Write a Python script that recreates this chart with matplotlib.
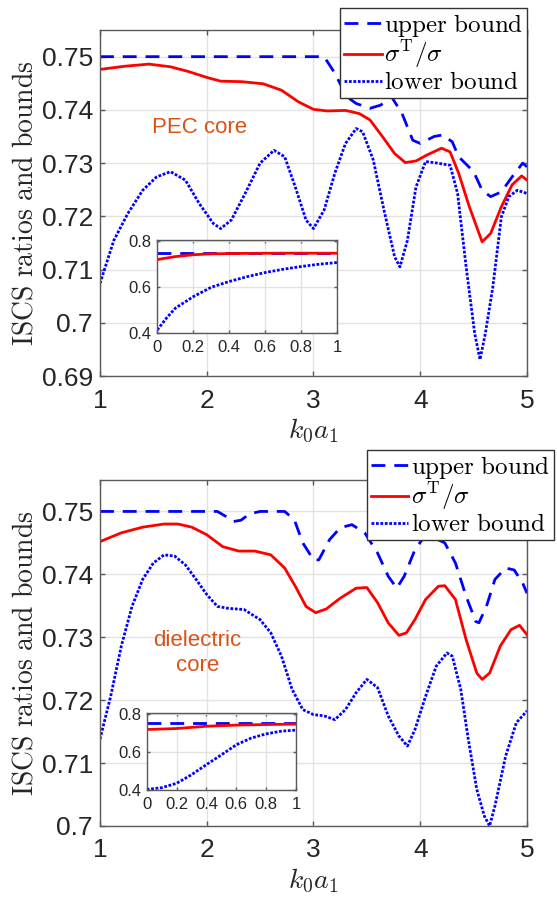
import matplotlib
matplotlib.use('Agg')
from matplotlib import pyplot as plt

plt.rcParams['mathtext.fontset'] = 'cm'
plt.rcParams['font.family'] = ['Liberation Sans', 'DejaVu Sans']

# PEC core (top panel)
pec_x_up = [1.0, 3.1, 3.2, 3.31, 3.4, 3.53, 3.63, 3.73, 3.83, 3.93, 4.0, 4.13, 4.21, 4.3, 4.36,
            4.5, 4.58, 4.66, 4.76, 4.86, 4.96, 5.0]
pec_up = [0.75, 0.75, 0.7469, 0.7425, 0.7412, 0.7403, 0.7409, 0.7425, 0.7393, 0.7343, 0.7337,
          0.7350, 0.7353, 0.7340, 0.7312, 0.7284, 0.7249, 0.7237, 0.7246, 0.7274, 0.7300, 0.7293]
pec_x_ratio = [1.0, 1.23, 1.46, 1.66, 1.83, 2.0, 2.13, 2.33, 2.53, 2.7, 2.86, 3.0, 3.13, 3.3,
               3.43, 3.53, 3.66, 3.76, 3.86, 3.96, 4.06, 4.2, 4.28, 4.36, 4.46, 4.58, 4.66,
               4.76, 4.86, 4.95, 5.0]
pec_ratio = [0.7476, 0.7482, 0.7486, 0.7481, 0.7472, 0.7461, 0.7454, 0.7453, 0.7449, 0.7437,
             0.7415, 0.7401, 0.7398, 0.7399, 0.7393, 0.7381, 0.7346, 0.7318, 0.7301, 0.7304,
             0.7315, 0.7328, 0.7321, 0.7281, 0.7218, 0.7152, 0.7168, 0.7218, 0.7259, 0.7276,
             0.7268]
pec_x_low = [1.0, 1.13, 1.26, 1.4, 1.53, 1.66, 1.8, 1.93, 2.06, 2.13, 2.23, 2.36, 2.5, 2.63,
             2.73, 2.83, 2.93, 3.0, 3.1, 3.2, 3.3, 3.4, 3.46, 3.56, 3.66, 3.76, 3.81, 3.88,
             3.96, 4.05, 4.16, 4.28, 4.35, 4.43, 4.51, 4.56, 4.61, 4.68, 4.76, 4.83, 4.91, 5.0]
pec_low = [0.7074, 0.7155, 0.7205, 0.7249, 0.7274, 0.7284, 0.7268, 0.7224, 0.7187, 0.7177,
           0.7193, 0.7243, 0.7300, 0.7324, 0.7312, 0.7255, 0.7193, 0.7177, 0.7212, 0.7281,
           0.7337, 0.7365, 0.7359, 0.7306, 0.7212, 0.7124, 0.7105, 0.7155, 0.7255, 0.7303,
           0.7300, 0.7296, 0.7243, 0.7105, 0.6980, 0.6931, 0.6980, 0.7067, 0.7199, 0.7237,
           0.7249, 0.7243]

# PEC core inset (k0a1 from 0 to 1)
pec_in_x = [0.0, 1.0]
pec_in_up = [0.75, 0.75]
pec_in_x_ratio = [0.0, 0.1, 0.2, 0.3, 0.5, 0.7, 1.0]
pec_in_ratio = [0.72, 0.733, 0.741, 0.745, 0.747, 0.7478, 0.7476]
pec_in_x_low = [0.0, 0.05, 0.1, 0.2, 0.3, 0.4, 0.5, 0.6, 0.7, 0.8, 0.9, 1.0]
pec_in_low = [0.4145, 0.465, 0.509, 0.559, 0.6, 0.625, 0.646, 0.664, 0.678, 0.69, 0.7, 0.7074]

# dielectric core (bottom panel)
die_x_up = [1.0, 2.1, 2.18, 2.25, 2.32, 2.4, 2.5, 2.73, 2.82, 2.9, 3.0, 3.05, 3.15, 3.25, 3.36,
            3.48, 3.6, 3.7, 3.78, 3.85, 3.95, 4.03, 4.13, 4.23, 4.33, 4.43, 4.52, 4.55, 4.62,
            4.7, 4.8, 4.88, 4.96, 5.0]
die_up = [0.75, 0.75, 0.7492, 0.7484, 0.7486, 0.7496, 0.75, 0.75, 0.7487, 0.7450, 0.7423,
          0.7423, 0.7455, 0.7474, 0.7479, 0.7466, 0.7434, 0.7397, 0.7378, 0.7397, 0.7439,
          0.7458, 0.7458, 0.7450, 0.7418, 0.7365, 0.7325, 0.7323, 0.7349, 0.7392, 0.7410,
          0.7407, 0.7386, 0.7370]
die_x_ratio = [1.0, 1.2, 1.4, 1.6, 1.73, 1.86, 2.0, 2.15, 2.3, 2.45, 2.6, 2.73, 2.83, 2.93,
               3.02, 3.12, 3.25, 3.4, 3.5, 3.6, 3.7, 3.8, 3.87, 3.95, 4.05, 4.17, 4.23, 4.33,
               4.43, 4.53, 4.58, 4.65, 4.75, 4.85, 4.93, 5.0]
die_ratio = [0.7452, 0.7466, 0.7475, 0.7480, 0.7480, 0.7475, 0.7463, 0.7444, 0.7437, 0.7437,
             0.7431, 0.7410, 0.7381, 0.7349, 0.7339, 0.7345, 0.7362, 0.7378, 0.7379, 0.7355,
             0.7323, 0.7303, 0.7307, 0.7328, 0.7360, 0.7381, 0.7382, 0.7360, 0.7296, 0.7243,
             0.7233, 0.7243, 0.7286, 0.7312, 0.7319, 0.7304]
die_x_low = [1.0, 1.1, 1.2, 1.3, 1.4, 1.5, 1.6, 1.7, 1.8, 1.9, 2.0, 2.1, 2.2, 2.35, 2.5, 2.6,
             2.7, 2.8, 2.9, 3.0, 3.1, 3.2, 3.3, 3.4, 3.5, 3.6, 3.7, 3.8, 3.88, 3.95, 4.05, 4.15,
             4.25, 4.3, 4.38, 4.45, 4.53, 4.6, 4.65, 4.7, 4.8, 4.9, 5.0]
die_low = [0.7138, 0.7206, 0.7286, 0.7349, 0.7392, 0.7418, 0.7431, 0.7429, 0.7415, 0.7392,
           0.7368, 0.7349, 0.7346, 0.7344, 0.7328, 0.7307, 0.7270, 0.7217, 0.7185, 0.7177,
           0.7175, 0.7169, 0.7185, 0.7212, 0.7233, 0.7220, 0.7175, 0.7143, 0.7127, 0.7153,
           0.7206, 0.7254, 0.7275, 0.7270, 0.7217, 0.7138, 0.7058, 0.7016, 0.7000, 0.7032,
           0.7111, 0.7164, 0.7183]

# dielectric core inset
die_in_x = [0.0, 1.0]
die_in_up = [0.75, 0.75]
die_in_x_ratio = [0.0, 0.2, 0.4, 0.6, 0.8, 1.0]
die_in_ratio = [0.717, 0.722, 0.734, 0.74, 0.743, 0.7452]
die_in_x_low = [0.0, 0.1, 0.2, 0.3, 0.4, 0.5, 0.6, 0.7, 0.8, 0.9, 1.0]
die_in_low = [0.403, 0.412, 0.435, 0.48, 0.533, 0.584, 0.637, 0.672, 0.694, 0.708, 0.7138]

labels = [r'$\mathrm{upper\ bound}$', r'$\sigma^{\mathrm{T}}/\sigma$', r'$\mathrm{lower\ bound}$']

BLUE = '#0000ff'
RED = '#ff0000'
ORANGE = '#d95319'
AXC = '#5a5a5a'
TXC = '#262626'


def style_axes(ax, fs, pad_x, pad_y, tl):
    ax.grid(True, color='#e3e3e3', linewidth=1.0)
    ax.set_axisbelow(True)
    for s in ax.spines.values():
        s.set_color(AXC)
        s.set_linewidth(1.0)
    ax.tick_params(direction='in', top=True, right=True, length=tl, width=1.0,
                   color=AXC, labelcolor=TXC, labelsize=fs)
    ax.tick_params(axis='x', pad=pad_x)
    ax.tick_params(axis='y', pad=pad_y)


def draw_lines(ax, xu, yu, xr, yr, xl, yl, lw):
    l1, = ax.plot(xu, yu, color=BLUE, linewidth=lw, dashes=(5, 3.2))
    l2, = ax.plot(xr, yr, color=RED, linewidth=lw)
    l3, = ax.plot(xl, yl, color=BLUE, linewidth=lw, dashes=(1, 0.6))
    return [l1, l2, l3]


fig = plt.figure(figsize=(5.57, 8.97), dpi=100)

panels = [
    dict(rect=[0.1795, 0.5808, 0.7666, 0.3857], ylim=(0.69, 0.755),
         yticks=[0.69, 0.70, 0.71, 0.72, 0.73, 0.74, 0.75],
         yticklabels=['0.69', '0.7', '0.71', '0.72', '0.73', '0.74', '0.75'],
         data=(pec_x_up, pec_up, pec_x_ratio, pec_ratio, pec_x_low, pec_low),
         inset_rect=[157.3, 240, 180, 93.3],
         inset=(pec_in_x, pec_in_up, pec_in_x_ratio, pec_in_ratio, pec_in_x_low, pec_in_low),
         leg_anchor=(1.0, 1.0636), note='PEC core', note_xy=(1.93, 0.7366)),
    dict(rect=[0.1795, 0.0792, 0.7666, 0.3857], ylim=(0.70, 0.755),
         yticks=[0.70, 0.71, 0.72, 0.73, 0.74, 0.75],
         yticklabels=['0.7', '0.71', '0.72', '0.73', '0.74', '0.75'],
         data=(die_x_up, die_up, die_x_ratio, die_ratio, die_x_low, die_low),
         inset_rect=[146.7, 712.7, 149.3, 77.3],
         inset=(die_in_x, die_in_up, die_in_x_ratio, die_in_ratio, die_in_x_low, die_in_low),
         leg_anchor=(1.0632, 1.0867), note='dielectric\ncore', note_xy=(1.913, 0.7275)),
]

W, H = 557.0, 897.0
for p in panels:
    ax = fig.add_axes(p['rect'])
    handles = draw_lines(ax, *p['data'], lw=2.0)
    ax.set_xlim(1, 5)
    ax.set_ylim(*p['ylim'])
    ax.set_xticks([1, 2, 3, 4, 5])
    ax.set_xticklabels(['1', '2', '3', '4', '5'])
    ax.set_yticks(p['yticks'])
    ax.set_yticklabels(p['yticklabels'])
    style_axes(ax, 19, 9, 5, 3.5)
    ax.set_xlabel(r'$k_0a_1$', fontsize=20, color=TXC, labelpad=3)
    ax.set_ylabel(r'$\mathrm{ISCS\ ratios\ and\ bounds}$', fontsize=20, color=TXC, labelpad=2)
    ax.text(p['note_xy'][0], p['note_xy'][1], p['note'], color=ORANGE, fontsize=16,
            ha='center', va='center', linespacing=1.25)
    leg = ax.legend(handles, labels, loc='upper right', bbox_to_anchor=p['leg_anchor'],
                    borderaxespad=0, fontsize=18, frameon=True, fancybox=False,
                    framealpha=1, edgecolor='#333333', handlelength=1.5,
                    handletextpad=0.1, borderpad=0.15, labelspacing=0.0)
    leg.get_frame().set_linewidth(1.0)

    x0, y0, w, h = p['inset_rect']
    ins = fig.add_axes([x0 / W, 1 - (y0 + h) / H, w / W, h / H])
    draw_lines(ins, *p['inset'], lw=2.0)
    ins.set_xlim(0, 1)
    ins.set_ylim(0.4, 0.805)
    ins.set_xticks([0, 0.2, 0.4, 0.6, 0.8, 1])
    ins.set_xticklabels(['0', '0.2', '0.4', '0.6', '0.8', '1'])
    ins.set_yticks([0.4, 0.6, 0.8])
    ins.set_yticklabels(['0.4', '0.6', '0.8'])
    style_axes(ins, 12, 5, 4, 2.5)

fig.savefig('out.png', dpi=100)
